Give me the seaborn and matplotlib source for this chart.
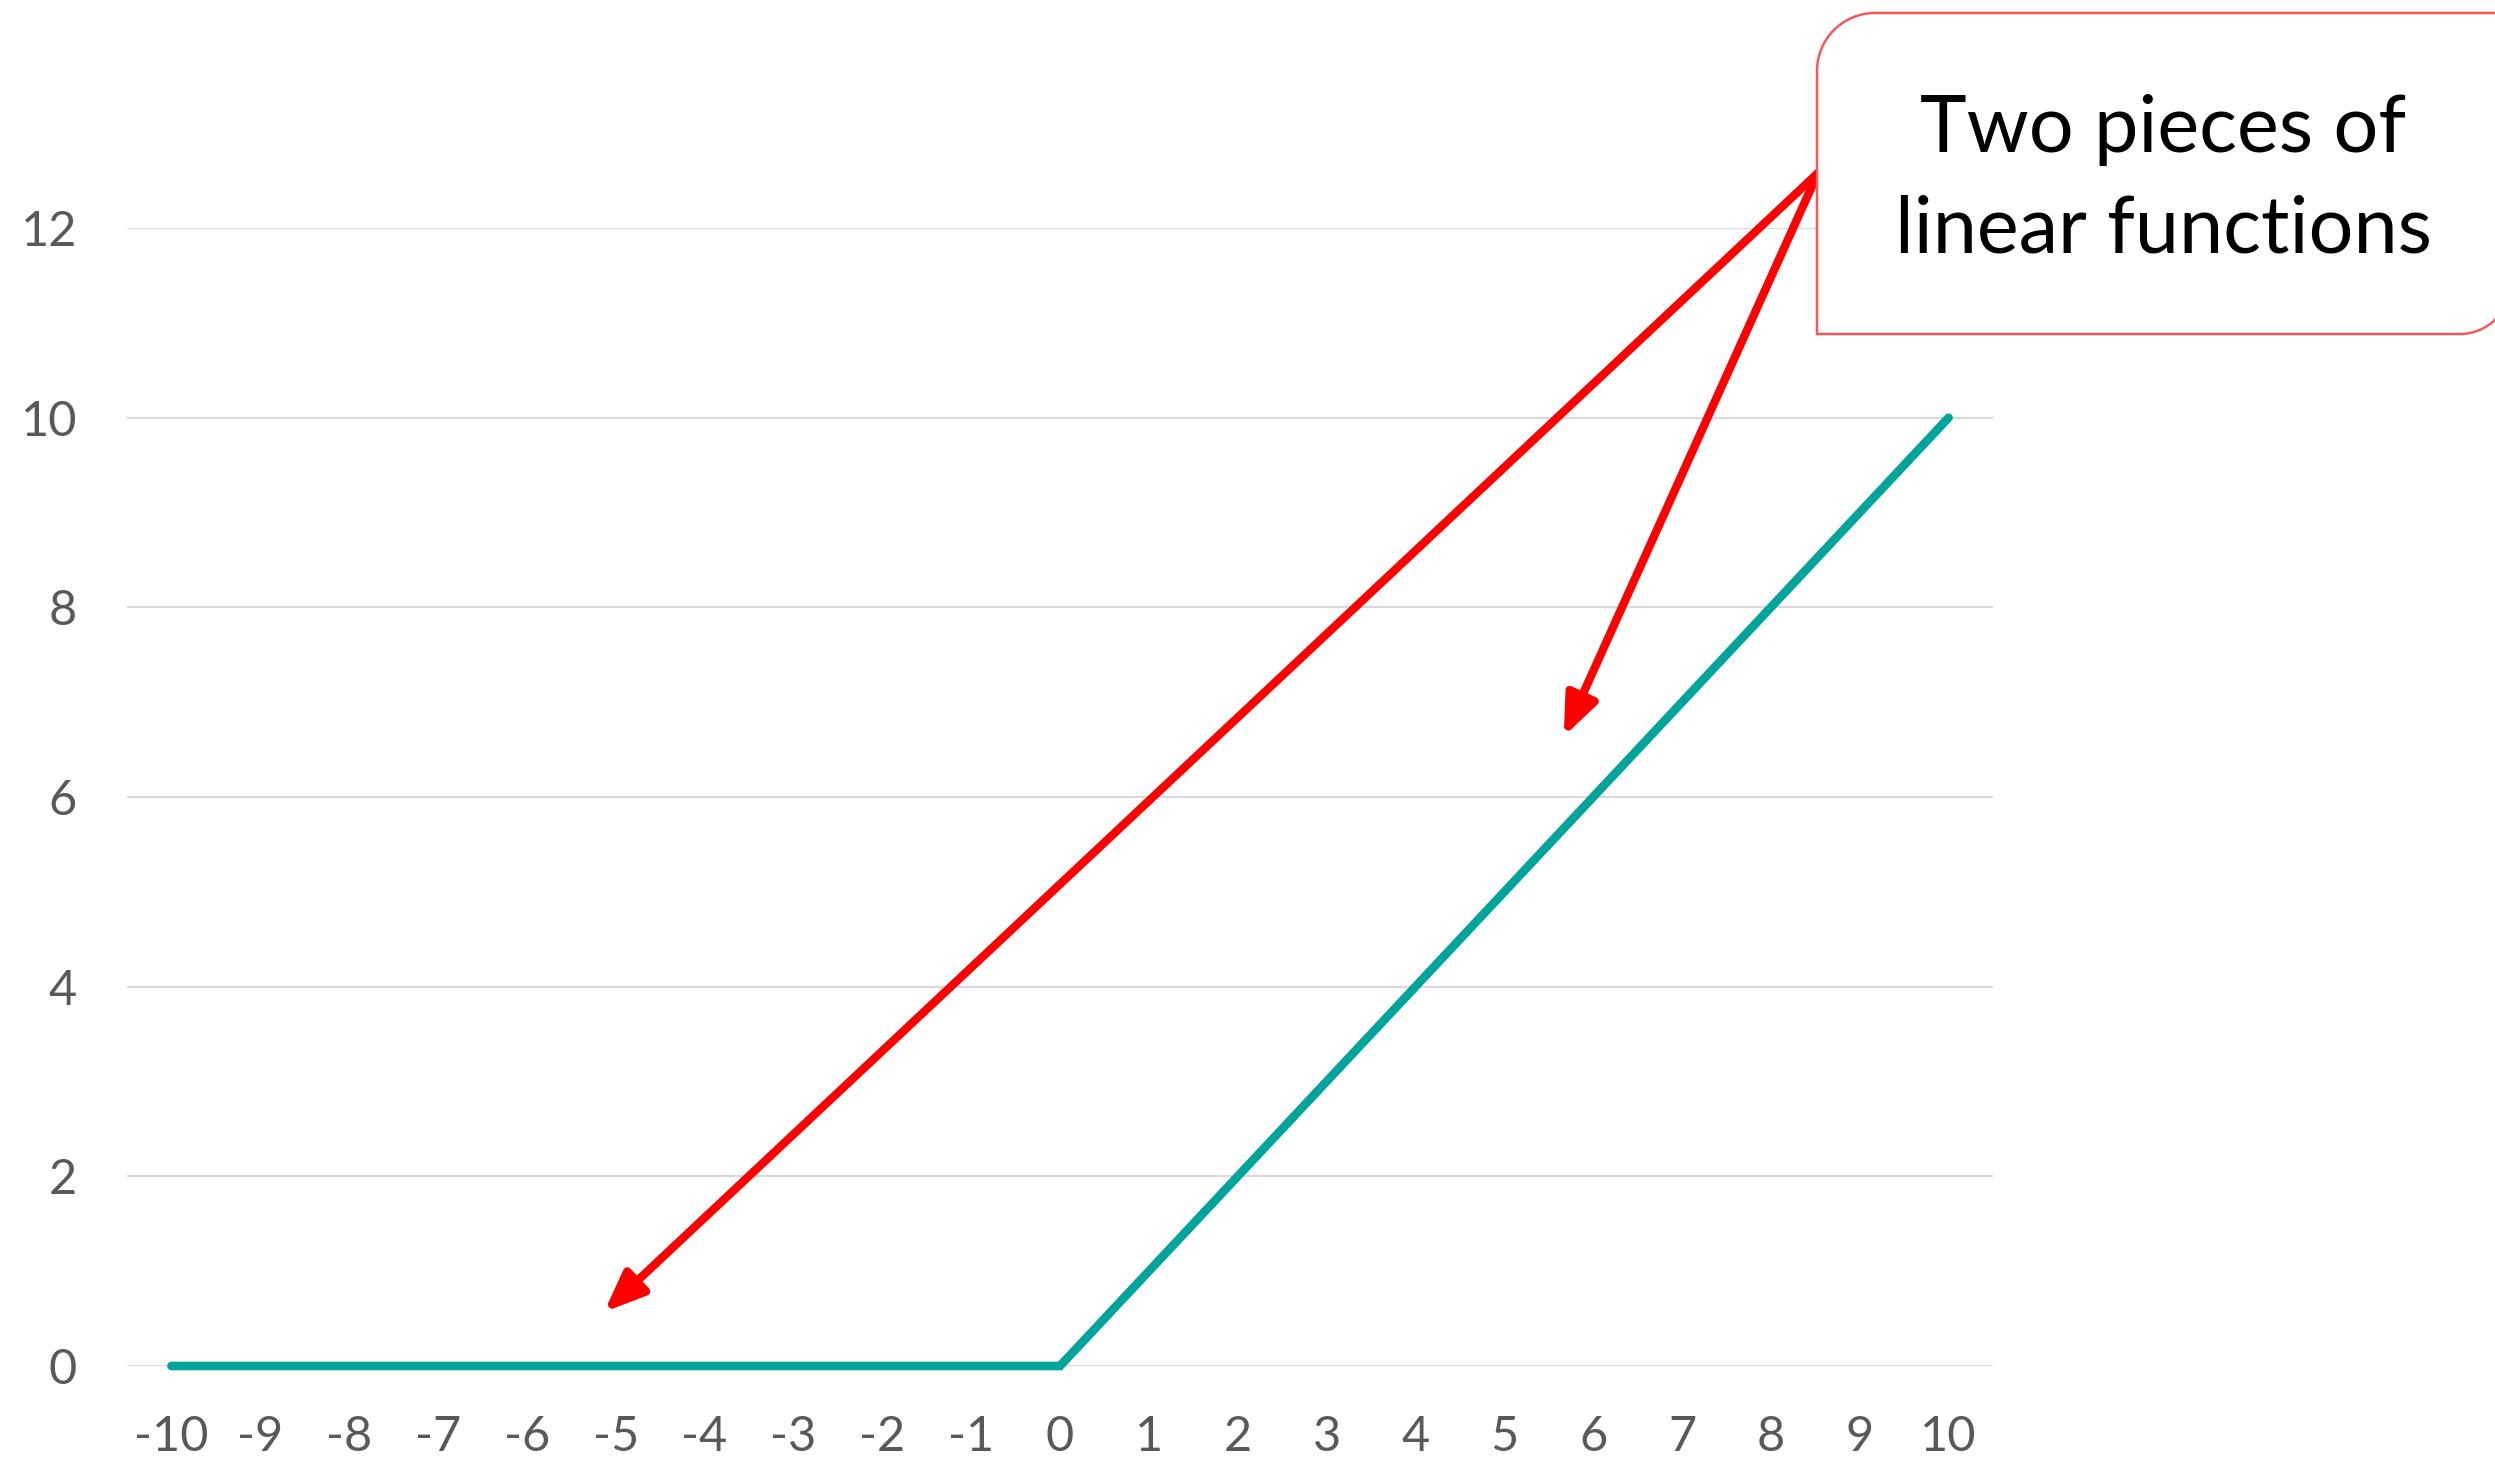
import matplotlib
matplotlib.use("Agg")
import matplotlib.pyplot as plt
from matplotlib.path import Path
from matplotlib.patches import PathPatch
import pandas as pd
import seaborn as sns

# Chart data: piecewise linear function, flat at 0 then rising with slope 1
x_values = [-10, -9, -8, -7, -6, -5, -4, -3, -2, -1, 0,
            1, 2, 3, 4, 5, 6, 7, 8, 9, 10]
y_values = [0, 0, 0, 0, 0, 0, 0, 0, 0, 0, 0,
            1, 2, 3, 4, 5, 6, 7, 8, 9, 10]
y_ticks = [0, 2, 4, 6, 8, 10, 12]
callout_text = "Two pieces of\nlinear functions"

df = pd.DataFrame({"x": x_values, "y": y_values})

sns.set_theme(style="white")
plt.rcParams["font.family"] = ["Lato", "DejaVu Sans"]

W, H, DPI = 2495, 1461, 100
fig = plt.figure(figsize=(W / DPI, H / DPI), dpi=DPI)
fig.patch.set_facecolor("white")

ax = fig.add_axes([127 / W, 1 - 1366 / H, (1993 - 127) / W, (1366 - 228) / H])
ax.set_facecolor("white")

sns.lineplot(data=df, x="x", y="y", ax=ax, color="#00A49A", lw=6.2,
             solid_capstyle="round", solid_joinstyle="miter", zorder=3)
for ln in ax.lines:
    ln.set_linewidth(6.2)
    ln.set_clip_on(False)

ax.set_xlim(-10.5, 10.5)
ax.set_ylim(0, 12)
ax.set_xticks(x_values)
ax.set_xticklabels([str(v) for v in x_values])
ax.set_yticks(y_ticks)
ax.set_yticklabels([str(v) for v in y_ticks])
ax.set_xlabel("")
ax.set_ylabel("")

ax.yaxis.grid(True, color="#D9D9D9", linewidth=1.5)
ax.xaxis.grid(False)
ax.set_axisbelow(True)
for s in ax.spines.values():
    s.set_visible(False)
ax.tick_params(axis="both", length=0, labelsize=35, labelcolor="#595959")
ax.tick_params(axis="x", pad=35)
ax.tick_params(axis="y", pad=36)

# Arrows from the callout to the two pieces
tail = (8.53, 12.58)
for tip in [(-5.13, 0.57), (5.67, 6.64)]:
    ax.annotate("", xy=tip, xytext=tail, xycoords="data", textcoords="data",
                annotation_clip=False,
                arrowprops=dict(arrowstyle="-|>,head_length=1.1,head_width=0.45",
                                mutation_scale=22, color="#FF0000", lw=6.0,
                                shrinkA=0, shrinkB=0), zorder=4)

# Callout box drawn in pixel space on a transparent overlay
ov = fig.add_axes([0, 0, 1, 1])
ov.set_xlim(0, W)
ov.set_ylim(H, 0)
ov.axis("off")

left, top, right, bottom = 1817, 13, 2510, 334
r1, r2 = 58, 50
k = 0.5523
verts = [
    (left, bottom),
    (left, top + r1),
    (left, top + r1 - k * r1), (left + r1 - k * r1, top), (left + r1, top),
    (right, top),
    (right, bottom - r2),
    (right, bottom - r2 + k * r2), (right - r2 + k * r2, bottom), (right - r2, bottom),
    (left, bottom),
    (left, bottom),
]
codes = [Path.MOVETO, Path.LINETO,
         Path.CURVE4, Path.CURVE4, Path.CURVE4,
         Path.LINETO, Path.LINETO,
         Path.CURVE4, Path.CURVE4, Path.CURVE4,
         Path.LINETO, Path.CLOSEPOLY]
box = PathPatch(Path(verts, codes), facecolor="white", edgecolor="#F05A5A",
                linewidth=1.8, clip_on=False)
ov.add_patch(box)
ov.text((left + right) / 2, 180, callout_text, ha="center", va="center",
        fontsize=57, color="black", linespacing=1.5)

fig.savefig("out.png", dpi=DPI, facecolor="white")
